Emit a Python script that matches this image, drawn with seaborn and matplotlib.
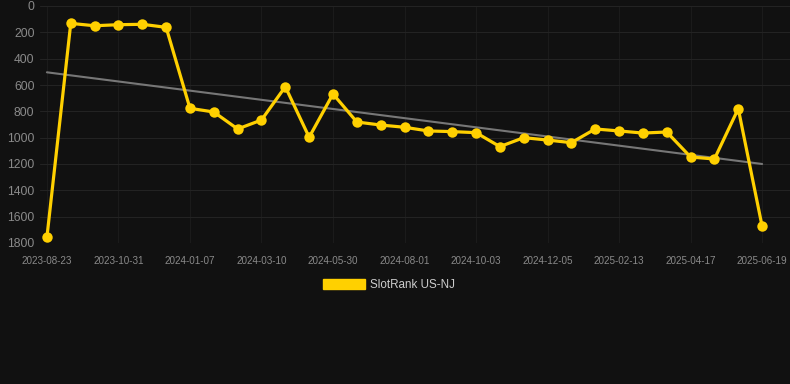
import numpy as np
import pandas as pd
import matplotlib
matplotlib.use("Agg")
import matplotlib.pyplot as plt
from matplotlib.patches import Patch
import seaborn as sns

# rank values (lower = better, axis inverted)
dates = ["2023-08-23", "2023-09-14", "2023-10-08", "2023-10-31", "2023-11-22", "2023-12-15",
         "2024-01-07", "2024-01-28", "2024-02-18", "2024-03-10", "2024-04-06", "2024-05-03",
         "2024-05-30", "2024-06-20", "2024-07-11", "2024-08-01", "2024-08-22", "2024-09-12",
         "2024-10-03", "2024-10-24", "2024-11-14", "2024-12-05", "2024-12-28", "2025-01-21",
         "2025-02-13", "2025-03-06", "2025-03-27", "2025-04-17", "2025-05-08", "2025-05-29",
         "2025-06-19"]
ranks = [1757, 132, 150, 142, 139, 162, 777, 805, 934, 866, 613, 997, 668, 881, 904, 921,
         949, 954, 962, 1068, 1000, 1018, 1038, 934, 949, 965, 957, 1147, 1162, 780, 1673]
yticks = [0, 200, 400, 600, 800, 1000, 1200, 1400, 1600, 1800]

df = pd.DataFrame({"date": dates, "rank": ranks})
df["idx"] = np.arange(len(df))

bg = "#111111"
gold = "#FFD000"

sns.set_style("dark")
plt.rcParams["font.family"] = ["Liberation Sans", "DejaVu Sans"]

fig = plt.figure(figsize=(7.9, 3.84), dpi=100, facecolor=bg)
ax = fig.add_axes([40 / 790, 1 - 243 / 384, 750 / 790, 237 / 384])
ax.set_facecolor(bg)

# trend line (least squares fit)
sns.regplot(data=df, x="idx", y="rank", ax=ax, scatter=False, ci=None, truncate=True,
            line_kws={"color": "#777777", "linewidth": 1.5, "zorder": 2})

sns.lineplot(data=df, x="idx", y="rank", ax=ax, color=gold, linewidth=2.3,
             marker="o", markersize=7.5, markeredgewidth=0, zorder=3)

ax.set_ylim(1800, 0)
ax.set_xlim(-0.29, 31.17)
ax.set_yticks(yticks)
ax.set_xticks(df["idx"][::3])
ax.set_xticklabels(df["date"][::3])
ax.tick_params(axis="y", colors="#8a8a8a", labelsize=8.7, length=0, pad=4)
ax.tick_params(axis="x", colors="#8a8a8a", labelsize=7.1, length=0, pad=9)
ax.grid(True, axis="y", color="#232323", linewidth=0.8)
ax.grid(True, axis="x", color="#1b1b1b", linewidth=0.8)
for s in ax.spines.values():
    s.set_visible(False)
ax.set_xlabel("")
ax.set_ylabel("")

fig.legend(handles=[Patch(facecolor=gold, edgecolor=gold, label="SlotRank US-NJ")],
           loc="center", bbox_to_anchor=(389 / 790, 1 - 285 / 384), frameon=False,
           fontsize=8.4, labelcolor="#cccccc", handlelength=3.6, handleheight=1.0,
           handletextpad=0.5)

fig.savefig("out.png", dpi=100, facecolor=bg)
